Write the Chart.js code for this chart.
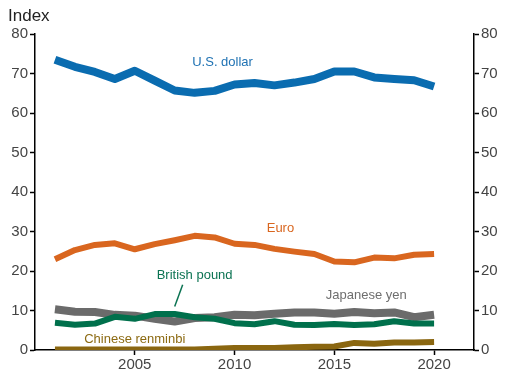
<!DOCTYPE html>
<html>
<head>
<meta charset="utf-8">
<script src="https://cdn.jsdelivr.net/npm/chart.js@4/dist/chart.umd.min.js"></script>
<style>
  html, body { margin: 0; padding: 0; background: #fff; }
  #wrap { width: 509px; height: 375px; }
</style>
</head>
<body>
<div id="wrap"><canvas id="myChart" width="509" height="375"></canvas></div>
<script>
const years = [2001, 2002, 2003, 2004, 2005, 2006, 2007, 2008, 2009, 2010,
               2011, 2012, 2013, 2014, 2015, 2016, 2017, 2018, 2019, 2020];
const usDollar = [73.5, 71.7, 70.4, 68.6, 70.7, 68.2, 65.7, 65.1, 65.6, 67.2,
                  67.6, 67.0, 67.7, 68.6, 70.5, 70.5, 69.0, 68.6, 68.3, 66.7];
const euro = [23.0, 25.3, 26.6, 27.0, 25.5, 26.8, 27.8, 28.9, 28.5, 26.9,
              26.6, 25.6, 24.9, 24.3, 22.4, 22.2, 23.4, 23.2, 24.1, 24.3];
const britishPound = [6.9, 6.4, 6.7, 8.4, 7.9, 9.1, 9.1, 8.3, 7.9, 6.8,
                      6.5, 7.3, 6.4, 6.3, 6.6, 6.3, 6.5, 7.3, 6.7, 6.7];
const japaneseYen = [10.3, 9.7, 9.6, 8.9, 8.7, 7.9, 7.2, 8.1, 8.3, 8.9,
                     8.8, 9.2, 9.5, 9.5, 9.2, 9.6, 9.3, 9.5, 8.3, 8.9];
const chineseRenminbi = [0.1, 0.1, 0.1, 0.1, 0.1, 0.1, 0.1, 0.1, 0.3, 0.5,
                         0.5, 0.5, 0.7, 0.8, 0.9, 1.8, 1.6, 1.9, 1.9, 2.0];
const xTicks = [2005, 2010, 2015, 2020];
const yTicks = [0, 10, 20, 30, 40, 50, 60, 70, 80];

const seriesLabels = [
    {text: 'U.S. dollar', x: 2009.4, y: 72.9, color: '#1f72b3'},
    {text: 'Euro', x: 2012.3, y: 30.9, color: '#d9661f'},
    {text: 'British pound', x: 2008.0, y: 19.0, color: '#0b7352'},
    {text: 'Japanese yen', x: 2016.6, y: 13.7, color: '#6e6e6e'},
    {text: 'Chinese renminbi', x: 2005.0, y: 2.8, color: '#8c6a12'}
];

function points(vals) {
    return years.map((yr, i) => ({x: yr, y: vals[i]}));
}

const ctx = document.getElementById('myChart').getContext('2d');

const labelPlugin = {
    id: 'seriesText',
    afterDatasetsDraw(chart) {
        const c = chart.ctx;
        const xs = chart.scales.x, ys = chart.scales.y;
        c.save();
        c.font = '13px "Liberation Sans", Arial, sans-serif';
        c.textAlign = 'center';
        c.textBaseline = 'middle';
        seriesLabels.forEach(l => {
            c.fillStyle = l.color;
            c.fillText(l.text, xs.getPixelForValue(l.x), ys.getPixelForValue(l.y));
        });
        // leader line for British pound
        c.strokeStyle = '#0b7352';
        c.lineWidth = 1.5;
        c.beginPath();
        c.moveTo(xs.getPixelForValue(2007.4), ys.getPixelForValue(16.5));
        c.lineTo(xs.getPixelForValue(2007.0), ys.getPixelForValue(11.0));
        c.stroke();
        // axis title
        c.fillStyle = '#222';
        c.font = '17px "Liberation Sans", Arial, sans-serif';
        c.textAlign = 'left';
        c.fillText('Index', 8, 16);
        c.restore();
    }
};

const tickFont = {family: '"Liberation Sans", Arial, sans-serif', size: 15};

const myChart = new Chart(ctx, {
    type: 'line',
    data: {
        datasets: [
            {label: 'U.S. dollar', data: points(usDollar), borderColor: '#0a6cb0', borderWidth: 8, order: 0},
            {label: 'Euro', data: points(euro), borderColor: '#d9661f', borderWidth: 6, order: 1},
            {label: 'British pound', data: points(britishPound), borderColor: '#00704c', borderWidth: 6, order: 2},
            {label: 'Japanese yen', data: points(japaneseYen), borderColor: '#6b6b6b', borderWidth: 8, order: 3},
            {label: 'Chinese renminbi', data: points(chineseRenminbi), borderColor: '#8a6610', borderWidth: 6, order: 4}
        ]
    },
    options: {
        responsive: false,
        maintainAspectRatio: false,
        animation: false,
        layout: {padding: {top: 34, left: 0, right: 0, bottom: 0}},
        elements: {
            point: {radius: 0},
            line: {tension: 0, borderJoinStyle: 'round', borderCapStyle: 'butt'}
        },
        scales: {
            x: {
                type: 'linear',
                min: 2000,
                max: 2022,
                afterBuildTicks: s => { s.ticks = xTicks.map(v => ({value: v})); },
                afterFit: s => { s.height = 25; },
                grid: {display: true, drawOnChartArea: false, drawTicks: true, tickLength: 5, color: '#000', tickWidth: 1.5},
                border: {display: true, color: '#000', width: 1.5},
                ticks: {color: '#444', font: tickFont, padding: 1, maxRotation: 0, callback: v => String(v)}
            },
            y: {
                position: 'left',
                min: 0,
                max: 80,
                afterBuildTicks: s => { s.ticks = yTicks.map(v => ({value: v})); },
                afterFit: s => { s.width = 35; },
                grid: {display: true, drawOnChartArea: false, drawTicks: true, tickLength: 5, color: '#000', tickWidth: 1.5},
                border: {display: true, color: '#000', width: 1.5},
                ticks: {color: '#444', font: tickFont, padding: 2}
            },
            y2: {
                position: 'right',
                min: 0,
                max: 80,
                afterBuildTicks: s => { s.ticks = yTicks.map(v => ({value: v})); },
                afterFit: s => { s.width = 35; },
                grid: {display: true, drawOnChartArea: false, drawTicks: true, tickLength: 5, color: '#000', tickWidth: 1.5},
                border: {display: true, color: '#000', width: 1.5},
                ticks: {color: '#444', font: tickFont, padding: 2}
            }
        },
        plugins: {
            legend: {display: false},
            tooltip: {enabled: false}
        }
    },
    plugins: [labelPlugin]
});
</script>
</body>
</html>
